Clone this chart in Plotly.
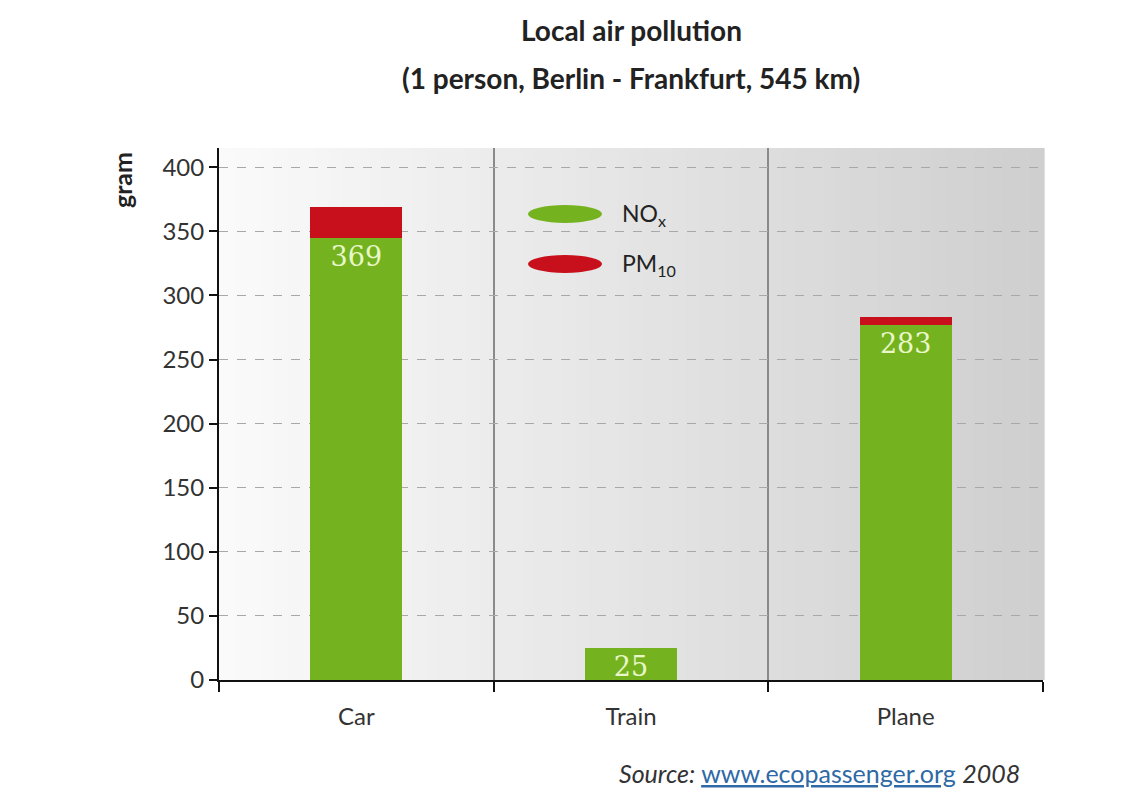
import plotly.graph_objects as go

categories = ["Car", "Train", "Plane"]
nox = [345, 25, 277]
pm10 = [24, 0, 6]
totals = [369, 25, 283]
y_ticks = [0, 50, 100, 150, 200, 250, 300, 350, 400]

GREEN = "#74b31f"
RED = "#c8101c"
FONT = "Lato"

fig = go.Figure()
fig.add_trace(go.Bar(
    x=categories, y=nox, name="NOx", marker=dict(color=GREEN, line=dict(width=0)),
    width=0.335, text=[str(t) for t in totals], textposition="inside",
    insidetextanchor="end", textangle=0, constraintext="none",
    textfont=dict(family="DejaVu Serif", size=27, color="#e9f7c9"),
    showlegend=False,
))
fig.add_trace(go.Bar(
    x=categories, y=pm10, name="PM10", marker=dict(color=RED, line=dict(width=0)),
    width=0.335, showlegend=False,
))

# background gradient (white -> grey, left to right)
N = 60
shapes = []
for i in range(N):
    t = i / (N - 1)
    c0, c1 = 250, 207
    v = int(round(c0 + (c1 - c0) * t))
    shapes.append(dict(type="rect", xref="x domain", yref="y domain",
                       x0=i / N, x1=(i + 1) / N + 0.002, y0=0, y1=1,
                       fillcolor=f"rgb({v},{v},{v})", line=dict(width=0), layer="below"))

# legend ellipses
shapes.append(dict(type="circle", xref="paper", yref="paper",
                   x0=(528 - 219) / 824, x1=(602 - 219) / 824,
                   y0=(680 - 223) / 532, y1=(680 - 205) / 532,
                   fillcolor=GREEN, line=dict(width=0)))
shapes.append(dict(type="circle", xref="paper", yref="paper",
                   x0=(528 - 219) / 824, x1=(602 - 219) / 824,
                   y0=(680 - 273) / 532, y1=(680 - 255) / 532,
                   fillcolor=RED, line=dict(width=0)))

annotations = [
    dict(text="<b>Local air pollution</b>", xref="paper", yref="paper",
         x=0.5, y=(680 - 30) / 532, showarrow=False, xanchor="center", yanchor="middle",
         font=dict(family=FONT, size=28, color="#222")),
    dict(text="<b>(1 person, Berlin - Frankfurt, 545 km)</b>", xref="paper", yref="paper",
         x=0.5, y=(680 - 78) / 532, showarrow=False, xanchor="center", yanchor="middle",
         font=dict(family=FONT, size=28, color="#222")),
    dict(text="<b>gram</b>", xref="paper", yref="paper", textangle=-90,
         x=(122 - 219) / 824, y=(680 - 180) / 532, showarrow=False,
         xanchor="center", yanchor="middle",
         font=dict(family=FONT, size=25, color="#222")),
    dict(text="NO<sub>x</sub>", xref="paper", yref="paper",
         x=(620 - 219) / 824, y=(680 - 214) / 532, showarrow=False,
         xanchor="left", yanchor="middle", font=dict(family=FONT, size=23, color="#222")),
    dict(text="PM<sub>10</sub>", xref="paper", yref="paper",
         x=(620 - 219) / 824, y=(680 - 264) / 532, showarrow=False,
         xanchor="left", yanchor="middle", font=dict(family=FONT, size=23, color="#222")),
    dict(text="<i>Source:</i> <span style='color:#2f69a6'><u>www.ecopassenger.org</u></span> <i>2008</i>",
         xref="paper", yref="paper", x=(1022 - 219) / 824, y=(680 - 773) / 532,
         showarrow=False, xanchor="right", yanchor="middle",
         font=dict(family=FONT, size=25, color="#333")),
]

fig.update_layout(
    width=1135, height=785,
    margin=dict(l=211, r=100, t=140, b=113),
    paper_bgcolor="white", plot_bgcolor="rgba(0,0,0,0)",
    barmode="stack", bargap=0.665,
    shapes=shapes, annotations=annotations,
    font=dict(family=FONT, color="#333"),
    xaxis=dict(type="category", tickson="boundaries", showgrid=True,
               gridcolor="#8a8a8a", gridwidth=2, ticks="outside", ticklen=10,
               tickcolor="#111", tickwidth=2, showline=True, linecolor="#111",
               linewidth=2, tickfont=dict(family=FONT, size=24, color="#333"),
               ticklabelstandoff=14, range=[-0.5, 2.5]),
    yaxis=dict(range=[0, 415], tickvals=y_ticks, ticks="outside", ticklen=8,
               tickcolor="#111", tickwidth=2, showline=True, linecolor="#111",
               linewidth=2, showgrid=True, gridcolor="#a8a8a8", griddash="dash",
               gridwidth=1, zeroline=False,
               tickfont=dict(family=FONT, size=24, color="#333")),
)

fig.write_html("out.html")
